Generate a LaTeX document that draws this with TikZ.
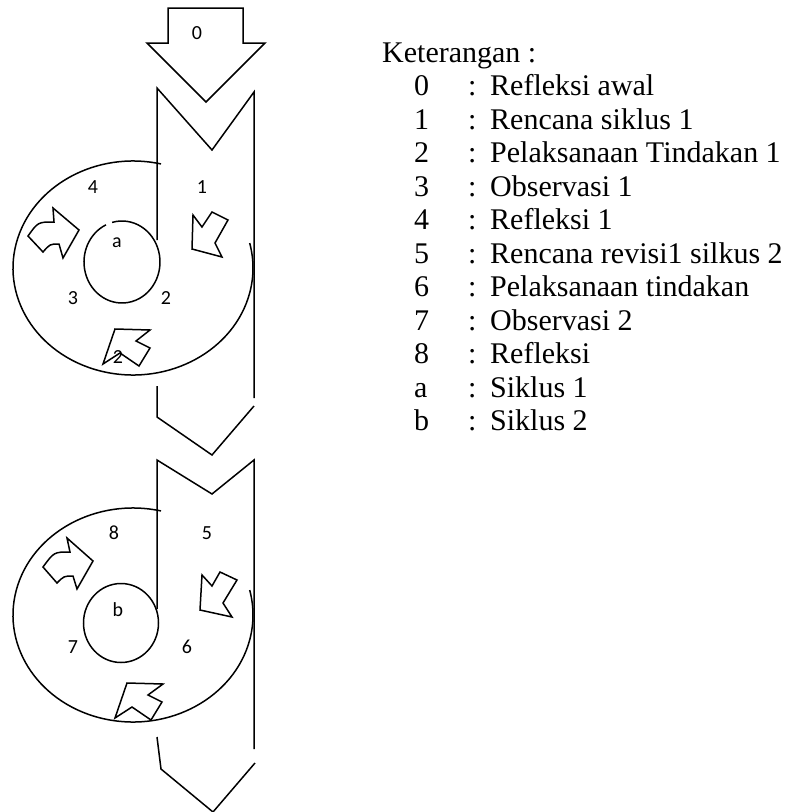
\documentclass[tikz,border=0pt]{standalone}
\usepackage{fontspec}
\setmainfont{Liberation Serif}
\newfontfamily\lblfont{Carlito}
\begin{document}
\begin{tikzpicture}[x=1pt,y=-1pt,
  shp/.style={draw=black, line width=1.5pt, line join=miter},
  lbl/.style={font=\lblfont\fontsize{20}{20}\selectfont, inner sep=0pt},
  leg/.style={font=\fontsize{30}{34}\selectfont, anchor=base west, inner sep=0pt}]
\useasboundingbox (0,0) rectangle (791,812);
% top arrow 0
\draw[shp] (168,8) -- (243,8) -- (243,43) -- (265,43) -- (206,102) -- (147,43) -- (168,43) -- cycle;
\node[lbl] (l0) at (197,33) {0};
% cycle 1
\draw[shp] (157,240) -- (157,88) -- (212,150) -- (254,92) -- (254,398);
\coordinate (e1) at (133,268);
\draw[shp] (e1) ++(-76.5:120 and 107) arc[start angle=-76.5, end angle=-373.5, x radius=120, y radius=107];
\coordinate (c1) at (122,262);
\draw[shp] (c1) ++(-105:38 and 41) arc[start angle=-105, end angle=245, x radius=38, y radius=41];
\node[lbl] (l4) at (93,187) {4};
\node[lbl] (l1) at (202,187) {1};
\node[lbl] (la) at (117,243) {a};
\node[lbl] (l3) at (73,298) {3};
\node[lbl] (l2) at (166,298) {2};
\draw[shp] (28,236) -- (43,252) .. controls (50,244) .. (59,244) -- (63,258) -- (79,230) -- (53,208) -- (54,222) .. controls (38,222) .. (28,236) -- cycle;
\draw[shp] (192,249) -- (193,215) -- (202,227) -- (212,212) -- (228,220) -- (215,243) -- (222,257) -- cycle;
\draw[shp] (103,364) -- (115,329) -- (150,330) -- (136,341) -- (150,348) -- (139,366) -- (120,353) -- cycle;
\node[lbl] (l2b) at (118,357) {2};
% middle chevron
\draw[shp] (157,386) -- (157,417) -- (212,455) -- (254,406);
% cycle 2
\draw[shp] (157,609) -- (157,460) -- (212,494) -- (254,460) -- (254,749);
\coordinate (e2) at (133,615);
\draw[shp] (e2) ++(-76.5:120 and 107) arc[start angle=-76.5, end angle=-373.5, x radius=120, y radius=107];
\coordinate (c2) at (121,623);
\draw[shp] (c2) ellipse[x radius=37.5, y radius=39.5];
\node[lbl] (l8) at (114,533) {8};
\node[lbl] (l5) at (207,533) {5};
\node[lbl] (lb) at (118,610) {b};
\node[lbl] (l7) at (73,647) {7};
\node[lbl] (l6) at (187,647) {6};
\draw[shp] (43,567) -- (57,583) .. controls (64,576) .. (73,576) -- (77,589) -- (93,561) -- (67,538) -- (70,552) .. controls (54,552) .. (43,567) -- cycle;
\draw[shp] (200,610) -- (202,575) -- (212,586) -- (220,572) -- (237,580) -- (223,603) -- (232,617) -- cycle;
\draw[shp] (115,718) -- (127,683) -- (163,684) -- (148,695) -- (162,702) -- (151,720) -- (132,707) -- cycle;
% bottom chevron
\draw[shp] (157,737) -- (161,769) -- (213,812) -- (255,763);
% legend
\node[leg] (kt) at (382,62) {Keterangan :};
\foreach \k/\d/\t in {1/0/Refleksi awal, 2/1/Rencana siklus 1, 3/2/Pelaksanaan Tindakan 1, 4/3/Observasi 1, 5/4/Refleksi 1, 6/5/Rencana revisi1 silkus 2, 7/6/Pelaksanaan tindakan, 8/7/Observasi 2, 9/8/Refleksi, 10/a/Siklus 1, 11/b/Siklus 2}{
  \node[leg] (d\k) at (414,62+33.5*\k) {\d};
  \node[leg] (c\k) at (468,62+33.5*\k) {:};
  \node[leg] (t\k) at (490,62+33.5*\k) {\t};
}
\end{tikzpicture}
\end{document}
